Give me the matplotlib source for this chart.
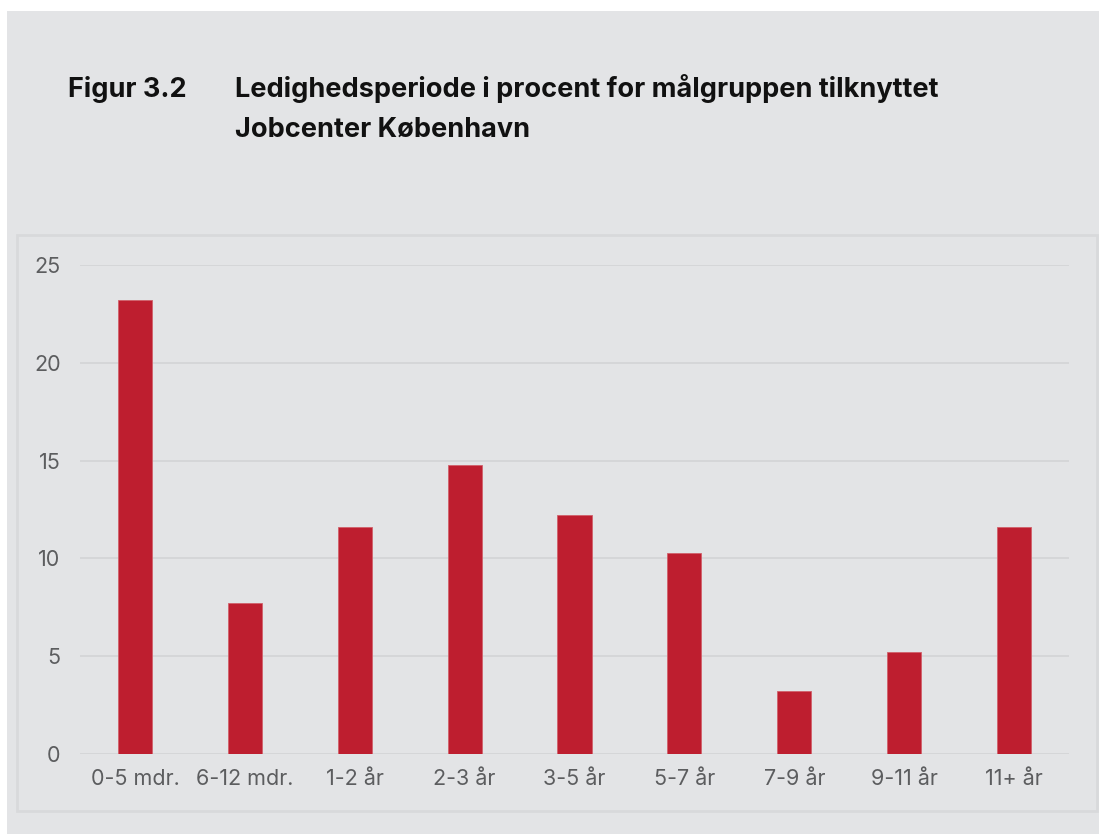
import matplotlib.pyplot as plt
import matplotlib.patches as mp

# Data
kategorier = ['0-5 mdr.', '6-12 mdr.', '1-2 år', '2-3 år', '3-5 år',
              '5-7 år', '7-9 år', '9-11 år', '11+ år']
procent = [23.2, 7.7, 11.6, 14.8, 12.2, 10.3, 3.2, 5.2, 11.6]
yticks = [0, 5, 10, 15, 20, 25]

baggrund = '#e3e4e6'
roed = '#be1e2f'

plt.rcParams['font.family'] = ['Inter', 'DejaVu Sans']

fig = plt.figure(figsize=(10.99, 8.34), dpi=100)
fig.patch.set_facecolor('white')

# grå baggrund og panel-ramme
W, H = 1099, 834
fig.patches.append(mp.Rectangle((7 / W, 0), 1 - 7 / W, 1 - 11 / H,
                                transform=fig.transFigure, facecolor=baggrund,
                                edgecolor='none', zorder=-3))
fig.patches.append(mp.Rectangle((17 / W, 1 - 811 / H), (1097 - 17) / W, (811 - 235) / H,
                                transform=fig.transFigure, facecolor='none',
                                edgecolor='#d8d9db', linewidth=2, zorder=-2))

# Titel
tkw = dict(fontsize=19.5, fontweight='bold', color='#111111')
fig.text(68 / W, 1 - 97 / H, 'Figur 3.2', **tkw)
fig.text(235 / W, 1 - 97 / H, 'Ledighedsperiode i procent for målgruppen tilknyttet', **tkw)
fig.text(235 / W, 1 - 137 / H, 'Jobcenter København', **tkw)

ax = fig.add_axes([80 / W, 1 - 754 / H, (1069 - 80) / W, (754 - 265) / H])
ax.set_facecolor('none')
ax.bar(range(len(kategorier)), procent, width=0.31, color=roed,
       edgecolor='#d0606a', linewidth=0.6, zorder=3)

ax.set_xlim(-0.5, len(kategorier) - 0.5)
ax.set_ylim(0, 25)
ax.set_yticks(yticks)
ax.set_xticks(range(len(kategorier)))
ax.set_xticklabels(kategorier)
ax.grid(axis='y', color='#d3d4d6', linewidth=1.2, zorder=0)
ax.tick_params(axis='both', length=0, labelsize=15.5, labelcolor='#5c5d5f')
ax.tick_params(axis='y', pad=14)
ax.tick_params(axis='x', pad=11)
for s in ax.spines.values():
    s.set_visible(False)

plt.savefig('out.png', dpi=100, facecolor=fig.get_facecolor())
